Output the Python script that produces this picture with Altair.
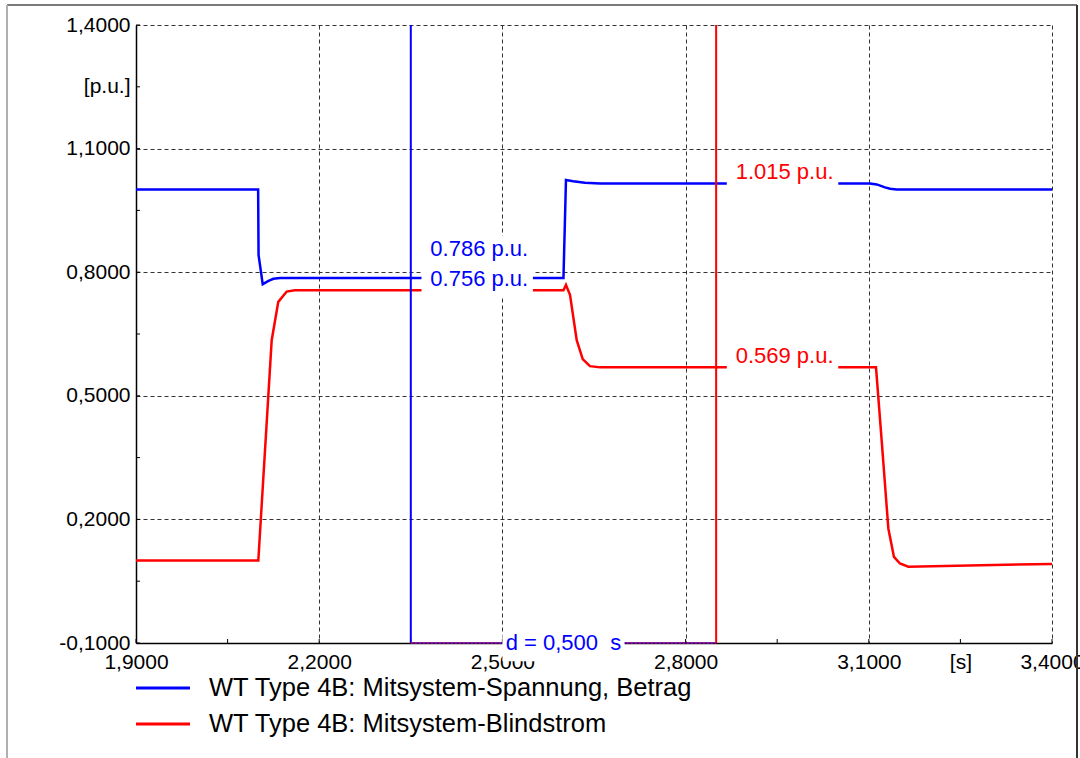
import altair as alt
import pandas as pd

# ---------------- data ----------------
series_names = ["WT Type 4B: Mitsystem-Spannung, Betrag", "WT Type 4B: Mitsystem-Blindstrom"]
series_colors = ["#0000ff", "#ff0000"]

t_voltage = [1.9, 2.1, 2.1007, 2.1075, 2.117, 2.125, 2.136, 2.6, 2.6041, 2.616, 2.635, 2.66,
             3.102, 3.113, 3.1265, 3.1348, 3.1456, 3.4]
v_voltage = [1.001, 1.001, 0.842, 0.771, 0.779, 0.784, 0.786, 0.786, 1.024, 1.021, 1.017, 1.015,
             1.015, 1.013, 1.006, 1.0025, 1.001, 1.001]

t_current = [1.9, 2.1003, 2.1166, 2.1222, 2.133, 2.1468, 2.16, 2.6, 2.6041, 2.6107, 2.6217, 2.6315,
             2.6434, 2.66, 3.1118, 3.121, 3.132, 3.1412, 3.151, 3.1647, 3.4]
v_current = [0.1, 0.1, 0.498, 0.635, 0.728, 0.753, 0.756, 0.756, 0.769, 0.745, 0.635, 0.589,
             0.572, 0.569, 0.569, 0.393, 0.178, 0.109, 0.093, 0.085, 0.092]

cursor_times = [2.35, 2.85]
cursor_colors = ["#0000ff", "#ff0000"]
cursor_voltage = [0.786, 1.015]
cursor_current = [0.756, 0.569]

x_ticks = [1.9, 2.05, 2.2, 2.35, 2.5, 2.65, 2.8, 2.95, 3.1, 3.25, 3.4]
y_ticks = [-0.1, 0.05, 0.2, 0.35, 0.5, 0.65, 0.8, 0.95, 1.1, 1.25, 1.4]
x_unit_pos, x_unit_text = 3.25, "[s]"
y_unit_pos, y_unit_text = 1.25, "[p.u.]"

# ---------------- layout / style ----------------
X_MIN, X_MAX = 1.9, 3.4
Y_MIN, Y_MAX = -0.1, 1.4
W, H = 916, 618
FONT = "Liberation Sans"

xscale = alt.Scale(domain=[X_MIN, X_MAX], nice=False, zero=False)
yscale = alt.Scale(domain=[Y_MIN, Y_MAX], nice=False, zero=False)


def major_test(lo):
    return f"abs((datum.value - ({lo})) / 0.3 - round((datum.value - ({lo})) / 0.3)) < 0.01"


def label_expr(lo, unit_val, unit_text):
    fmt = "(datum.value < 0 ? '-' : '') + replace(format(abs(datum.value), '.4f'), '.', ',')"
    return (f"{major_test(lo)} ? {fmt} : "
            f"(abs(datum.value - ({unit_val})) < 0.01 ? '{unit_text}' : '')")


def make_axis(lo, unit_val, unit_text, values, pad):
    return alt.Axis(
        values=values,
        labelExpr=label_expr(lo, unit_val, unit_text),
        grid=True, gridDash=[4, 3], gridColor="#333333", gridWidth=1,
        gridOpacity={"condition": {"test": major_test(lo), "value": 1}, "value": 0},
        ticks=False, domain=True, domainColor="black", domainWidth=1.5,
        labelFont=FONT, labelFontSize=21, labelColor="black", labelPadding=pad,
        labelOverlap=False, labelBound=False, labelFlush=False, title=None,
    )


xaxis = make_axis(X_MIN, x_unit_pos, x_unit_text, x_ticks, 8)
yaxis = make_axis(Y_MIN, y_unit_pos, y_unit_text, y_ticks, 6)


def X(field):
    return alt.X(field, scale=xscale, axis=xaxis)


def Y(field):
    return alt.Y(field, scale=yscale, axis=yaxis)


series_df = pd.DataFrame({
    "t": t_voltage + t_current,
    "v": v_voltage + v_current,
    "series": [series_names[0]] * len(t_voltage) + [series_names[1]] * len(t_current),
})

lines = alt.Chart(series_df).mark_line(strokeWidth=2.5, clip=True).encode(
    x=X("t:Q"), y=Y("v:Q"),
    color=alt.Color("series:N", scale=alt.Scale(domain=series_names, range=series_colors), legend=None),
)

# inward tick marks
xt_df = pd.DataFrame({"t": x_ticks})
yt_df = pd.DataFrame({"v": y_ticks})
xticks_layer = alt.Chart(xt_df).mark_rule(color="black", strokeWidth=1).encode(
    x=X("t:Q"), y=alt.value(H), y2=alt.value(H - 4))
yticks_layer = alt.Chart(yt_df).mark_rule(color="black", strokeWidth=1).encode(
    y=Y("v:Q"), x=alt.value(0), x2=alt.value(4))

# cursor label table
rows = []
for i, tc in enumerate(cursor_times):
    vals = sorted([cursor_voltage[i], cursor_current[i]])
    prev = None
    for v in vals:
        c = v + 0.027
        if prev is not None and c - prev < 0.073:
            c = prev + 0.073
        prev = c
        rows.append(dict(x=tc + 0.032, x0=tc + 0.0175, x1=tc + 0.2, yc=c, y0=c - 0.042,
                         y1=c + 0.033, text=f"{v:.3f} p.u.", color=cursor_colors[i]))
lab_df = pd.DataFrame(rows)

lab_bg = alt.Chart(lab_df).mark_rect(fill="white").encode(
    x=X("x0:Q"), x2="x1:Q", y=Y("y0:Q"), y2="y1:Q")
lab_txt = alt.Chart(lab_df).mark_text(align="left", baseline="middle", fontSize=22, font=FONT).encode(
    x=X("x:Q"), y=Y("yc:Q"), text="text:N",
    color=alt.Color("color:N", scale=None),
)

cur_df = pd.DataFrame({"t": cursor_times, "color": cursor_colors, "y0": [Y_MIN] * 2, "y1": [Y_MAX] * 2})
cursors = alt.Chart(cur_df).mark_rule(strokeWidth=2).encode(
    x=X("t:Q"), y=Y("y0:Q"), y2="y1:Q",
    color=alt.Color("color:N", scale=None),
)

# delta indicator
d_val = cursor_times[1] - cursor_times[0]
mid = (cursor_times[0] + cursor_times[1]) / 2
d_df = pd.DataFrame({
    "a": [cursor_times[0]], "b": [cursor_times[1]], "y": [Y_MIN],
    "m": [mid], "m0": [mid - 0.1], "m1": [mid + 0.1], "r0": [Y_MIN - 0.044], "r1": [Y_MIN + 0.024],
    "text": ["d = " + f"{d_val:.3f}".replace(".", ",") + "\u00a0\u00a0s"],
})
d_blue = alt.Chart(d_df).mark_rule(color=cursor_colors[0], strokeWidth=1.5).encode(
    x=X("a:Q"), x2="b:Q", y=Y("y:Q"))
d_red = alt.Chart(d_df).mark_rule(color=cursor_colors[1], strokeWidth=1.5, strokeDash=[2, 2]).encode(
    x=X("a:Q"), x2="b:Q", y=Y("y:Q"))
d_bg = alt.Chart(d_df).mark_rect(fill="white").encode(
    x=X("m0:Q"), x2="m1:Q", y=Y("r0:Q"), y2="r1:Q")
d_txt = alt.Chart(d_df).mark_text(align="center", baseline="middle", fontSize=22, font=FONT,
                                  color=cursor_colors[0]).encode(
    x=X("m:Q"), y=Y("y:Q"), text="text:N")

# legend below the plot (pixel layout)
one = pd.DataFrame({"k": [0]})
legend_layers = []
for i, (name, col) in enumerate(zip(series_names, series_colors)):
    ypix = H + 45 + 36 * i
    legend_layers.append(alt.Chart(one).mark_rule(strokeWidth=3, color=col).encode(
        x=alt.value(0), x2=alt.value(54), y=alt.value(ypix)))
    legend_layers.append(alt.Chart(one).mark_text(align="left", baseline="middle", fontSize=25.5,
                                                  font=FONT, color="black", text=name).encode(
        x=alt.value(73), y=alt.value(ypix)))

# outer frame
frame_top = alt.Chart(one).mark_rule(color="#7a7a7a", strokeWidth=2).encode(
    x=alt.value(-129), x2=alt.value(941), y=alt.value(-20))
frame_left = alt.Chart(one).mark_rule(color="#b0b0b0", strokeWidth=2).encode(
    x=alt.value(-129), y=alt.value(-20), y2=alt.value(740))
frame_right = alt.Chart(one).mark_rule(color="#333333", strokeWidth=2).encode(
    x=alt.value(941), y=alt.value(-20), y2=alt.value(740))

chart = alt.layer(
    lines, xticks_layer, yticks_layer, lab_bg, cursors, lab_txt,
    d_blue, d_red, d_bg, d_txt, *legend_layers, frame_top, frame_left, frame_right,
).properties(
    width=W, height=H,
    autosize=alt.AutoSizeParams(type="none"),
    padding={"left": 136, "top": 25, "right": 28, "bottom": 115},
    background="white",
).configure_view(stroke=None)

chart.save("out.html", embed_options={"renderer": "svg", "actions": False})
